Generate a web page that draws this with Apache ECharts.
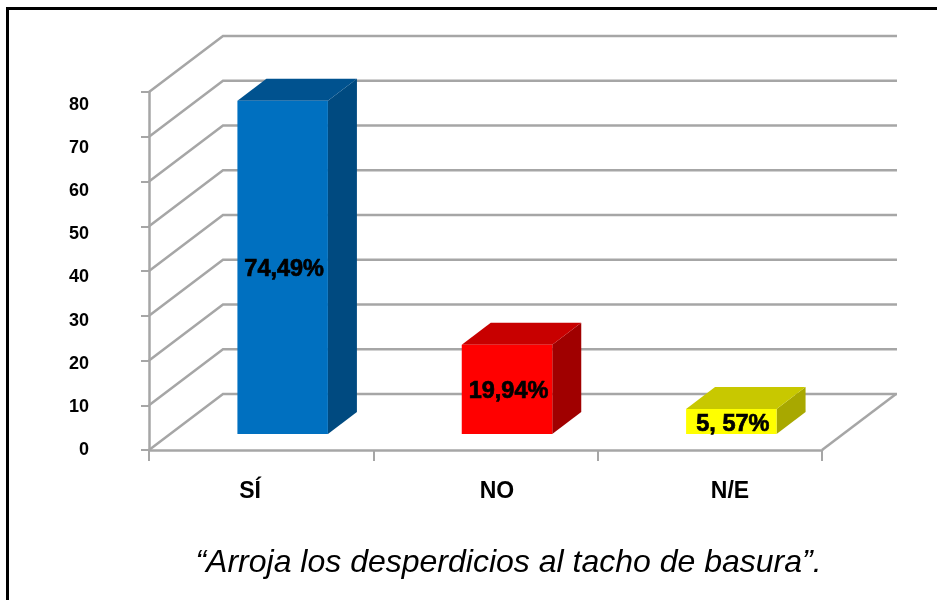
<!DOCTYPE html>
<html><head><meta charset="utf-8">
<style>
html,body{margin:0;padding:0;background:#fff;overflow:hidden}
#c{width:937px;height:600px;filter:blur(0.6px)}
</style>
<script src="https://cdn.jsdelivr.net/npm/echarts@6/dist/echarts.min.js"></script>
</head><body><div id="c"></div>
<script>
const categories = ['SÍ', 'NO', 'N/E'];
const values = [74.49, 19.94, 5.57];
const valueLabels = ['74,49%', '19,94%', '5, 57%'];
const frontColors = ['#0070C0', '#FF0000', '#FFFF00'];
const topColors = ['#00528F', '#C80000', '#C8C800'];
const sideColors = ['#004A80', '#A00000', '#A8A800'];
const yTicks = [0, 10, 20, 30, 40, 50, 60, 70, 80];
const caption = '“Arroja los desperdicios al tacho de basura”.';

const WALL_DX = 74, WALL_DY = -56;
const BAR_SHIFT_X = 21, BAR_SHIFT_Y = -16, BAR_W = 90.5, BAR_DX = 29, BAR_DY = -22;
const GRID_GREY = '#a6a6a6';

const chart = echarts.init(document.getElementById('c'), null, {renderer: 'canvas'});
const poly = (points, fill) => ({type: 'polygon', shape: {points}, style: {fill, lineWidth: 0}});

chart.setOption({
  animation: false,
  backgroundColor: '#fff',
  title: {
    text: caption, left: 503.5, top: 558, textAlign: 'center', textVerticalAlign: 'middle',
    textStyle: {fontFamily: 'Liberation Sans', fontSize: 32, fontStyle: 'italic', fontWeight: 'normal', color: '#000'}
  },
  graphic: [{
    type: 'rect', silent: true, z: -10,
    shape: {x: 7.5, y: 8.5, width: 1000, height: 700},
    style: {fill: 'none', stroke: '#000', lineWidth: 3}
  }],
  grid: [
    {left: 149, width: 673, top: 92, height: 358},
    {left: 130, width: 720, top: 105, height: 345}
  ],
  xAxis: [
    {gridIndex: 0, type: 'category', data: categories, z: 5,
      axisLine: {lineStyle: {color: GRID_GREY, width: 2.5}},
      axisTick: {show: true, length: 11, lineStyle: {color: GRID_GREY, width: 2}},
      axisLabel: {show: false}, splitLine: {show: false}},
    {gridIndex: 1, type: 'category', data: categories,
      axisLine: {show: false}, axisTick: {show: false}, splitLine: {show: false},
      axisLabel: {margin: 30, fontFamily: 'Liberation Sans', fontWeight: 'bold', fontSize: 23, color: '#000',
        formatter: (v, i) => i === 1 ? '{shift|' + v + '}' : v,
        rich: {shift: {fontFamily: 'Liberation Sans', fontWeight: 'bold', fontSize: 23, color: '#000', padding: [0, 0, 0, 14]}}}}
  ],
  yAxis: [
    {gridIndex: 0, type: 'value', min: 0, max: 80, interval: 10, z: 5,
      axisLine: {show: true, lineStyle: {color: GRID_GREY, width: 2.5}},
      axisTick: {show: true, length: 8, lineStyle: {color: GRID_GREY, width: 2}},
      axisLabel: {show: false}, splitLine: {show: false}},
    {gridIndex: 1, type: 'value', min: 0, max: 80, interval: 10,
      axisLine: {show: false}, axisTick: {show: false}, splitLine: {show: false},
      axisLabel: {margin: 41, fontFamily: 'Liberation Sans', fontWeight: 'bold', fontSize: 18, color: '#000'}}
  ],
  series: [
    {
      type: 'custom', xAxisIndex: 0, yAxisIndex: 0, z: 1, silent: true, clip: false,
      data: yTicks.map(v => [v]),
      renderItem(params, api) {
        const p = api.coord([0, api.value(0)]);
        const left = api.coord([0, 0])[0] - api.size([1, 0])[0] / 2;
        const right = left + api.size([1, 0])[0] * categories.length;
        const y = p[1];
        const style = {stroke: GRID_GREY, lineWidth: 2.5, fill: 'none'};
        return {type: 'polyline', shape: {points: [[left, y], [left + WALL_DX, y + WALL_DY], [right + WALL_DX + 1, y + WALL_DY]]}, style};
      }
    },
    {
      type: 'custom', xAxisIndex: 0, yAxisIndex: 0, z: 1, silent: true, clip: false,
      data: [[0]],
      renderItem(params, api) {
        const w = api.size([1, 0])[0];
        const y = api.coord([0, 0])[1];
        const right = api.coord([0, 0])[0] - w / 2 + w * categories.length;
        return {type: 'line', shape: {x1: right, y1: y, x2: right + WALL_DX, y2: y + WALL_DY},
          style: {stroke: GRID_GREY, lineWidth: 2.5}};
      }
    },
    {
      type: 'custom', xAxisIndex: 0, yAxisIndex: 0, z: 10, silent: true, clip: false,
      data: values.map((v, i) => [i, v]),
      renderItem(params, api) {
        const i = api.value(0);
        const base = api.coord([i, 0]);
        const top = api.coord([i, api.value(1)]);
        const x0 = base[0] + BAR_SHIFT_X + 0.5 - BAR_W / 2, x1 = x0 + BAR_W;
        const yb = base[1] + BAR_SHIFT_Y, yt = top[1] + BAR_SHIFT_Y;
        return {type: 'group', children: [
          poly([[x1, yt], [x1 + BAR_DX, yt + BAR_DY], [x1 + BAR_DX, yb + BAR_DY], [x1, yb]], sideColors[i]),
          poly([[x0, yt], [x0 + BAR_DX, yt + BAR_DY], [x1 + BAR_DX, yt + BAR_DY], [x1, yt]], topColors[i]),
          poly([[x0, yt], [x1, yt], [x1, yb], [x0, yb]], frontColors[i]),
          {type: 'text', style: {
            x: (x0 + x1) / 2 + 1.5, y: (yt + yb) / 2 + 2.5, text: valueLabels[i], align: 'center', verticalAlign: 'middle',
            fontFamily: 'Liberation Sans', fontWeight: 'bold', fontSize: 23.5, fill: '#000', stroke: '#000', lineWidth: 0.7
          }}
        ]};
      }
    }
  ]
});
</script></body></html>
